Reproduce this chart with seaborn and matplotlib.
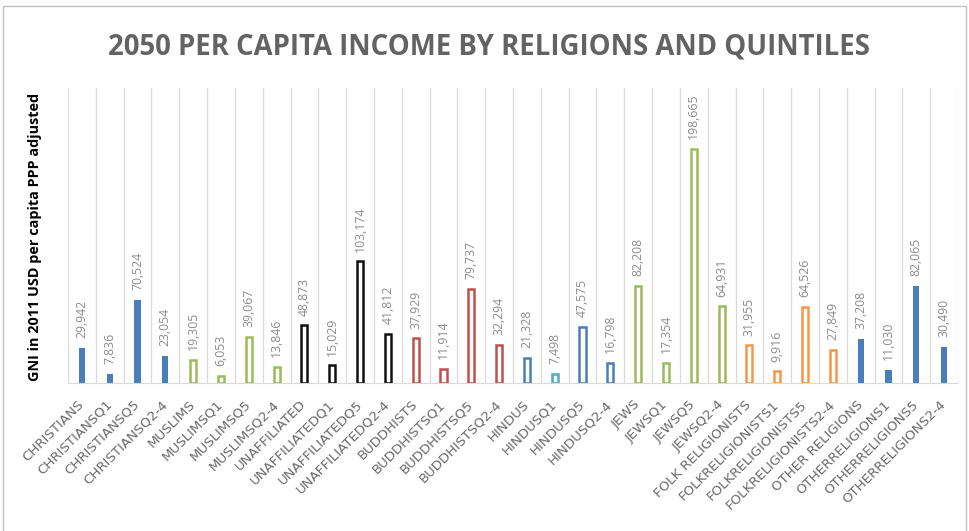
import matplotlib
matplotlib.use("Agg")
import matplotlib.pyplot as plt
from matplotlib.patches import Rectangle
import seaborn as sns
import numpy as np
import pandas as pd

categories = [
    "CHRISTIANS", "CHRISTIANSQ1", "CHRISTIANSQ5", "CHRISTIANSQ2-4",
    "MUSLIMS", "MUSLIMSQ1", "MUSLIMSQ5", "MUSLIMSQ2-4",
    "UNAFFILIATED", "UNAFFILIATEDQ1", "UNAFFILIATEDQ5", "UNAFFILIATEDQ2-4",
    "BUDDHISTS", "BUDDHISTSQ1", "BUDDHISTSQ5", "BUDDHISTSQ2-4",
    "HINDUS", "HINDUSQ1", "HINDUSQ5", "HINDUSQ2-4",
    "JEWS", "JEWSQ1", "JEWSQ5", "JEWSQ2-4",
    "FOLK RELIGIONISTS", "FOLKRELIGIONISTS1", "FOLKRELIGIONISTS5", "FOLKRELIGIONISTS2-4",
    "OTHER RELIGIONS", "OTHERRELIGIONS1", "OTHERRELIGIONS5", "OTHERRELIGIONS2-4",
]
values = [
    29942, 7836, 70524, 23054,
    19305, 6053, 39067, 13846,
    48873, 15029, 103174, 41812,
    37929, 11914, 79737, 32294,
    21328, 7498, 47575, 16798,
    82208, 17354, 198665, 64931,
    31955, 9916, 64526, 27849,
    37208, 11030, 82065, 30490,
]
bar_colors = (
    ["#4A7EBB"] * 4 + ["#9BBB59"] * 4 + ["#111111"] * 4 + ["#C0504D"] * 4
    + ["#4A7EBB", "#4BACC6", "#4A7EBB", "#4A7EBB"] + ["#9BBB59"] * 4
    + ["#F79646"] * 4 + ["#4A7EBB"] * 4
)
hollow = [False] * 4 + [True] * 24 + [False] * 4

title = "2050 PER CAPITA INCOME BY RELIGIONS AND QUINTILES"
ylabel = "GNI in 2011 USD per capita PPP adjusted"

df = pd.DataFrame({"category": categories, "value": values})

fig = plt.figure(figsize=(9.69, 5.31), dpi=100)
W, H = 969, 531
x0, x1, ytop, ybase = 68, 958, 88, 383
ax = fig.add_axes([x0 / W, 1 - ybase / H, (x1 - x0) / W, (ybase - ytop) / H])

palette = dict(zip(categories, bar_colors))
sns.barplot(data=df, x="category", y="value", hue="category", palette=palette,
            width=0.22, saturation=1, legend=False, ax=ax, dodge=False)

for p in ax.patches:
    i = int(round(p.get_x() + p.get_width() / 2))
    c = bar_colors[i]
    if hollow[i]:
        p.set_facecolor("white")
        p.set_edgecolor(c)
        p.set_linewidth(1.8)
    else:
        p.set_facecolor(c)
        p.set_edgecolor("none")
    p.set_zorder(3)

for cont in ax.containers:
    labs = []
    for p in cont:
        i = int(round(p.get_x() + p.get_width() / 2))
        labs.append(f"{values[i]:,}")
    ax.bar_label(cont, labels=labs, rotation=90, padding=7, color="#8C8C8C",
                 fontsize=8.8, family="Open Sans")

ax.set_xlim(-0.5, len(categories) - 0.5)
ax.set_ylim(0, 250000)
ax.set_xticks(np.arange(-0.5, len(categories), 1), minor=True)
ax.grid(which="minor", axis="x", color="#D9D9D9", lw=0.9, zorder=0)
ax.grid(which="major", visible=False)
ax.set_axisbelow(True)
ax.set_yticks([])
ax.set_xlabel("")
ax.set_ylabel("")
for s in ["top", "left", "right"]:
    ax.spines[s].set_visible(False)
ax.spines["bottom"].set_color("#D9D9D9")
ax.tick_params(axis="x", which="both", length=0)
ax.tick_params(axis="x", which="major", pad=14)
ax.set_xticks(range(len(categories)))
ax.set_xticklabels(categories, rotation=45, ha="right", va="center",
                   rotation_mode="anchor", color="#6A6A6A", fontsize=9.6,
                   family="DejaVu Sans")

fig.text(489 / W, 1 - 47 / H, title, ha="center", va="center", fontsize=19.8,
         fontweight="bold", color="#636363", family="Open Sans")
fig.text(35 / W, 1 - 237 / H, ylabel, ha="center", va="center", rotation=90,
         fontsize=10.4, fontweight="bold", color="black", family="Open Sans")

fig.add_artist(Rectangle((3 / W, -0.05), (966 - 3) / W, 1.05 - 6 / H,
                         transform=fig.transFigure, fill=False,
                         edgecolor="#BFBFBF", lw=1))

fig.savefig("out.png", dpi=100)
